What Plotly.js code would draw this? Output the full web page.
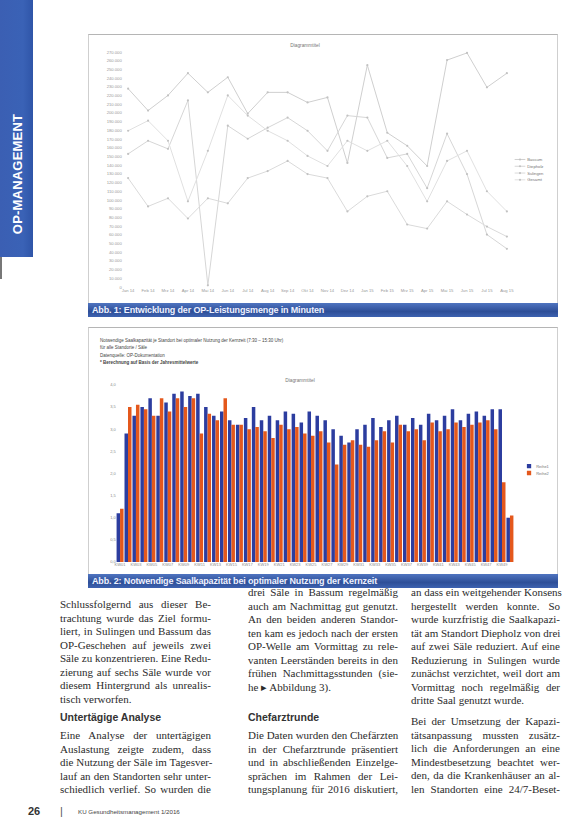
<!DOCTYPE html>
<html>
<head>
<meta charset="utf-8">
<script src="https://cdn.plot.ly/plotly-3.0.1.min.js"></script>
<style>
  html,body{margin:0;padding:0;background:#fff;}
  #page{position:relative;width:586px;height:831px;overflow:hidden;background:#fff;}
  .abs{position:absolute;}
  .ln{position:absolute;height:14px;line-height:14px;font-family:"Liberation Serif",serif;font-size:11px;color:#2b2b2b;text-align:justify;text-align-last:justify;white-space:nowrap;}
  .ln.last{text-align-last:left;}
  .hd{position:absolute;font-family:"Liberation Sans",sans-serif;font-weight:bold;font-size:10.5px;color:#333;line-height:14px;}
  .frame{position:absolute;border:1px solid #cfcfcf;background:#fff;}
  .cap{position:absolute;height:14px;line-height:14px;background:linear-gradient(#4f74c0,#2e4f98 60%,#3d62b0);color:#eef1ff;font-family:"Liberation Sans",sans-serif;font-weight:bold;font-size:9px;padding-left:4px;white-space:nowrap;letter-spacing:-0.15px;}
  .chart{position:absolute;transform-origin:0 0;}
  .tiny{position:absolute;font-family:"Liberation Sans",sans-serif;font-size:4.5px;color:#444;white-space:nowrap;line-height:6px;}
</style>
</head>
<body>
<div id="page">
  <!-- side bar -->
  <div class="abs" style="left:0;top:0;width:33px;height:257px;background:linear-gradient(90deg,#3b5fb3,#3a62b6 70%,#2f55a8);"></div>
  <div class="abs" style="left:0;top:257px;width:2px;height:22px;background:#777;"></div>
  <div class="abs" style="left:17px;top:174px;transform:translate(-50%,-50%) rotate(-90deg);font-family:'Liberation Sans',sans-serif;font-weight:bold;font-size:13px;color:#fff;white-space:nowrap;letter-spacing:0.2px;">OP-MANAGEMENT</div>

  <!-- figure 1 -->
  <div class="frame" style="left:88px;top:34px;width:468px;height:268px;border-top-color:#b5b5b5;"></div>
  <div id="c1" class="chart"></div>
  <div class="cap" style="left:88px;top:303px;width:466px;">Abb. 1: Entwicklung der OP-Leistungsmenge in Minuten</div>

  <!-- figure 2 -->
  <div class="frame" style="left:88px;top:327px;width:468px;height:246px;border-top-color:#b5b5b5;"></div>
  <div class="tiny" style="left:100px;top:338px;">Notwendige Saalkapazität je Standort bei optimaler Nutzung der Kernzeit (7:30 – 15:30 Uhr)</div>
  <div class="tiny" style="left:100px;top:345px;">für alle Standorte / Säle</div>
  <div class="tiny" style="left:100px;top:353px;">Datenquelle: OP-Dokumentation</div>
  <div class="tiny" style="left:100px;top:360px;font-weight:bold;">* Berechnung auf Basis der Jahresmittelwerte</div>
  <div id="c2" class="chart"></div>
  <div class="cap" style="left:88px;top:574px;width:466px;">Abb. 2: Notwendige Saalkapazität bei optimaler Nutzung der Kernzeit</div>

  <!-- column 1 -->
  <div class="ln" style="left:60px;top:597px;width:151px;">Schlussfolgernd aus dieser Be-</div>
  <div class="ln" style="left:60px;top:610.5px;width:151px;">trachtung wurde das Ziel formu-</div>
  <div class="ln" style="left:60px;top:624px;width:151px;">liert, in Sulingen und Bassum das</div>
  <div class="ln" style="left:60px;top:637.5px;width:151px;">OP-Geschehen auf jeweils zwei</div>
  <div class="ln" style="left:60px;top:651px;width:151px;">Säle zu konzentrieren. Eine Redu-</div>
  <div class="ln" style="left:60px;top:664.5px;width:151px;">zierung auf sechs Säle wurde vor</div>
  <div class="ln" style="left:60px;top:678px;width:151px;">diesem Hintergrund als unrealis-</div>
  <div class="ln last" style="left:60px;top:691.5px;width:151px;">tisch verworfen.</div>
  <div class="hd" style="left:60px;top:710px;">Untertägige Analyse</div>
  <div class="ln" style="left:60px;top:728px;width:151px;">Eine Analyse der untertägigen</div>
  <div class="ln" style="left:60px;top:741.5px;width:151px;">Auslastung zeigte zudem, dass</div>
  <div class="ln" style="left:60px;top:755px;width:151px;">die Nutzung der Säle im Tagesver-</div>
  <div class="ln" style="left:60px;top:768.5px;width:151px;">lauf an den Standorten sehr unter-</div>
  <div class="ln" style="left:60px;top:782px;width:151px;">schiedlich verlief. So wurden die</div>

  <!-- column 2 -->
  <div class="ln" style="left:248px;top:585px;width:150px;">drei Säle in Bassum regelmäßig</div>
  <div class="ln" style="left:248px;top:598.5px;width:150px;">auch am Nachmittag gut genutzt.</div>
  <div class="ln" style="left:248px;top:612px;width:150px;">An den beiden anderen Standor-</div>
  <div class="ln" style="left:248px;top:625.5px;width:150px;">ten kam es jedoch nach der ersten</div>
  <div class="ln" style="left:248px;top:639px;width:150px;">OP-Welle am Vormittag zu rele-</div>
  <div class="ln" style="left:248px;top:652.5px;width:150px;">vanten Leerständen bereits in den</div>
  <div class="ln" style="left:248px;top:666px;width:150px;">frühen Nachmittagsstunden (sie-</div>
  <div class="ln last" style="left:248px;top:679.5px;width:150px;">he ▸ Abbildung 3).</div>
  <div class="hd" style="left:248px;top:710px;">Chefarztrunde</div>
  <div class="ln" style="left:248px;top:728px;width:150px;">Die Daten wurden den Chefärzten</div>
  <div class="ln" style="left:248px;top:741.5px;width:150px;">in der Chefarztrunde präsentiert</div>
  <div class="ln" style="left:248px;top:755px;width:150px;">und in abschließenden Einzelge-</div>
  <div class="ln" style="left:248px;top:768.5px;width:150px;">sprächen im Rahmen der Lei-</div>
  <div class="ln" style="left:248px;top:782px;width:150px;">tungsplanung für 2016 diskutiert,</div>

  <!-- column 3 -->
  <div class="ln" style="left:411px;top:585px;width:149px;">an dass ein weitgehender Konsens</div>
  <div class="ln" style="left:411px;top:598.5px;width:149px;">hergestellt werden konnte. So</div>
  <div class="ln" style="left:411px;top:612px;width:149px;">wurde kurzfristig die Saalkapazi-</div>
  <div class="ln" style="left:411px;top:625.5px;width:149px;">tät am Standort Diepholz von drei</div>
  <div class="ln" style="left:411px;top:639px;width:149px;">auf zwei Säle reduziert. Auf eine</div>
  <div class="ln" style="left:411px;top:652.5px;width:149px;">Reduzierung in Sulingen wurde</div>
  <div class="ln" style="left:411px;top:666px;width:149px;">zunächst verzichtet, weil dort am</div>
  <div class="ln" style="left:411px;top:679.5px;width:149px;">Vormittag noch regelmäßig der</div>
  <div class="ln last" style="left:411px;top:693px;width:149px;">dritte Saal genutzt wurde.</div>
  <div class="ln" style="left:411px;top:714px;width:149px;">Bei der Umsetzung der Kapazi-</div>
  <div class="ln" style="left:411px;top:727.5px;width:149px;">tätsanpassung mussten zusätz-</div>
  <div class="ln" style="left:411px;top:741px;width:149px;">lich die Anforderungen an eine</div>
  <div class="ln" style="left:411px;top:754.5px;width:149px;">Mindestbesetzung beachtet wer-</div>
  <div class="ln" style="left:411px;top:768px;width:149px;">den, da die Krankenhäuser an al-</div>
  <div class="ln" style="left:411px;top:781.5px;width:149px;">len Standorten eine 24/7-Beset-</div>

  <!-- footer -->
  <div class="abs" style="left:28px;top:805px;font-family:'Liberation Sans',sans-serif;font-weight:bold;font-size:11px;color:#333;">26</div>
  <div class="abs" style="left:60px;top:805px;font-family:'Liberation Sans',sans-serif;font-size:11px;color:#555;">|</div>
  <div class="abs" style="left:78px;top:808px;font-family:'Liberation Sans',sans-serif;font-size:6.2px;color:#444;white-space:nowrap;">KU Gesundheitsmanagement 1/2016</div>
</div>

<script>
// ---------- data: chart 1 (OP-Leistungsmenge in Minuten) ----------
const months = ["Jan 14","Feb 14","Mrz 14","Apr 14","Mai 14","Jun 14","Jul 14","Aug 14","Sep 14","Okt 14",
                "Nov 14","Dez 14","Jan 15","Feb 15","Mrz 15","Apr 15","Mai 15","Jun 15","Jul 15","Aug 15"];
const seriesNames = ["Bassum","Diepholz","Sulingen","Gesamt"];
const bassum   = [228000,202800,220200,245700,223700,241100,199300,223700,223700,212100,217900,142600,255000,177300,162300,139100,260800,269000,229500,245700];
const diepholz = [153000,168100,158800,214400,2000,185400,170400,183100,194700,179600,156500,197000,194700,148400,153000,113600,176200,129800,60300,44000];
const sulingen = [125200,92700,102000,78800,102000,96200,125200,133300,144900,129800,125200,86900,104300,110100,71900,67200,98500,83400,69500,58000];
const gesamt   = [179600,191200,168100,98500,156500,220200,197000,179600,168100,150700,139100,168100,156500,168100,139100,98500,144900,156500,110100,86900];

// ---------- data: chart 2 (Saalkapazität) ----------
const weeks = [];
for (let i = 1; i <= 50; i++) weeks.push("KW" + String(i).padStart(2, "0"));
const seriesBlueName = "Reihe1";
const seriesOrangeName = "Reihe2";
const blueVals   = [1.1,2.9,3.3,3.5,3.7,3.3,3.6,3.8,3.85,3.75,3.8,3.5,3.3,3.4,3.2,3.1,3.25,3.5,3.2,3.3,3.2,3.4,3.35,3.15,3.4,
                    3.3,3.2,3.0,2.85,2.7,3.0,3.1,3.25,3.05,3.2,3.3,3.1,3.25,3.1,3.35,3.2,3.3,3.45,3.2,3.35,3.4,3.3,3.45,3.45,1.0];
const orangeVals = [1.2,3.5,3.55,3.45,3.3,3.7,3.4,3.7,3.5,3.7,2.9,3.35,3.2,3.7,3.1,3.1,3.0,3.05,2.95,2.8,3.1,3.0,3.05,2.9,2.85,
                    2.95,2.7,2.2,2.65,2.75,2.65,2.6,2.75,2.95,2.7,3.1,2.95,3.0,2.75,3.15,2.95,3.0,3.15,3.05,3.1,3.15,3.2,3.0,1.8,1.05];

const K = 2.8; // render scale, shrunk back with CSS
function place(id, left, top, w, h) {
  const el = document.getElementById(id);
  el.style.left = left + "px";
  el.style.top = top + "px";
  el.style.width = (w * K) + "px";
  el.style.height = (h * K) + "px";
  el.style.transform = "scale(" + (1 / K) + ")";
}

// ---------- chart 1 ----------
place("c1", 90, 36, 465, 266);
const lineColors = ["#cfcfcf","#d6d6d6","#dadada","#e0e0e0"];
const c1data = [bassum, diepholz, sulingen, gesamt].map((ys, i) => ({
  type: "scatter", mode: "lines+markers", name: seriesNames[i],
  x: months, y: ys,
  line: {color: lineColors[i], width: 1 * K},
  marker: {size: 2.2 * K, color: "#c2c2c2"},
  cliponaxis: false
}));
Plotly.newPlot("c1", c1data, {
  width: 465 * K, height: 266 * K,
  margin: {l: 32 * K, r: 42 * K, t: 16 * K, b: 15 * K},
  paper_bgcolor: "rgba(0,0,0,0)", plot_bgcolor: "rgba(0,0,0,0)",
  separators: ",.",
  font: {family: "Liberation Sans, sans-serif", color: "#888"},
  title: {text: "Diagrammtitel", font: {size: 4.8 * K, color: "#777"}, xref: "container", x: (305 - 90) / 465, xanchor: "center",
          yref: "container", y: 1 - (45 - 36) / 266, yanchor: "middle"},
  xaxis: {type: "category", range: [-0.3, 19.3], showgrid: false, zeroline: false, showline: false, ticks: "",
          tickfont: {size: 4.2 * K, color: "#999"}, tickangle: 0},
  yaxis: {range: [0, 270000], dtick: 10000, tickformat: ",d", showgrid: false, zeroline: false, showline: false, ticks: "",
          tickfont: {size: 4.2 * K, color: "#999"}},
  legend: {x: 1.0, y: 0.565, xanchor: "left", yanchor: "top", font: {size: 4.2 * K, color: "#777"}, bgcolor: "rgba(0,0,0,0)"},
  showlegend: true
}, {staticPlot: true, displayModeBar: false});

// ---------- chart 2 ----------
place("c2", 90, 372, 465, 201);
Plotly.newPlot("c2", [
  {type: "bar", name: seriesBlueName, x: weeks, y: blueVals, marker: {color: "#2c3d9f"}},
  {type: "bar", name: seriesOrangeName, x: weeks, y: orangeVals, marker: {color: "#e4581c"}}
], {
  width: 465 * K, height: 201 * K,
  margin: {l: 26 * K, r: 37.5 * K, t: 13 * K, b: 11 * K},
  paper_bgcolor: "rgba(0,0,0,0)", plot_bgcolor: "rgba(0,0,0,0)",
  separators: ",.",
  font: {family: "Liberation Sans, sans-serif", color: "#888"},
  barmode: "group", bargap: 0.12, bargroupgap: 0,
  title: {text: "Diagrammtitel", font: {size: 4.8 * K, color: "#777"}, xref: "container", x: (300 - 90) / 465, xanchor: "center",
          yref: "container", y: 1 - (380 - 372) / 201, yanchor: "middle"},
  xaxis: {type: "category", range: [-0.5, 49.5], dtick: 2, showgrid: false, zeroline: false, showline: false, ticks: "",
          tickfont: {size: 4 * K, color: "#8a8a8a"}, tickangle: 0},
  yaxis: {range: [0, 4], dtick: 0.5, tickformat: ".1f", showgrid: false, zeroline: false, showline: false, ticks: "",
          tickfont: {size: 4 * K, color: "#8a8a8a"}},
  legend: {x: 1.02, y: 0.57, xanchor: "left", yanchor: "top", font: {size: 4 * K, color: "#777"}, bgcolor: "rgba(0,0,0,0)"},
  showlegend: true
}, {staticPlot: true, displayModeBar: false});
</script>
</body>
</html>
